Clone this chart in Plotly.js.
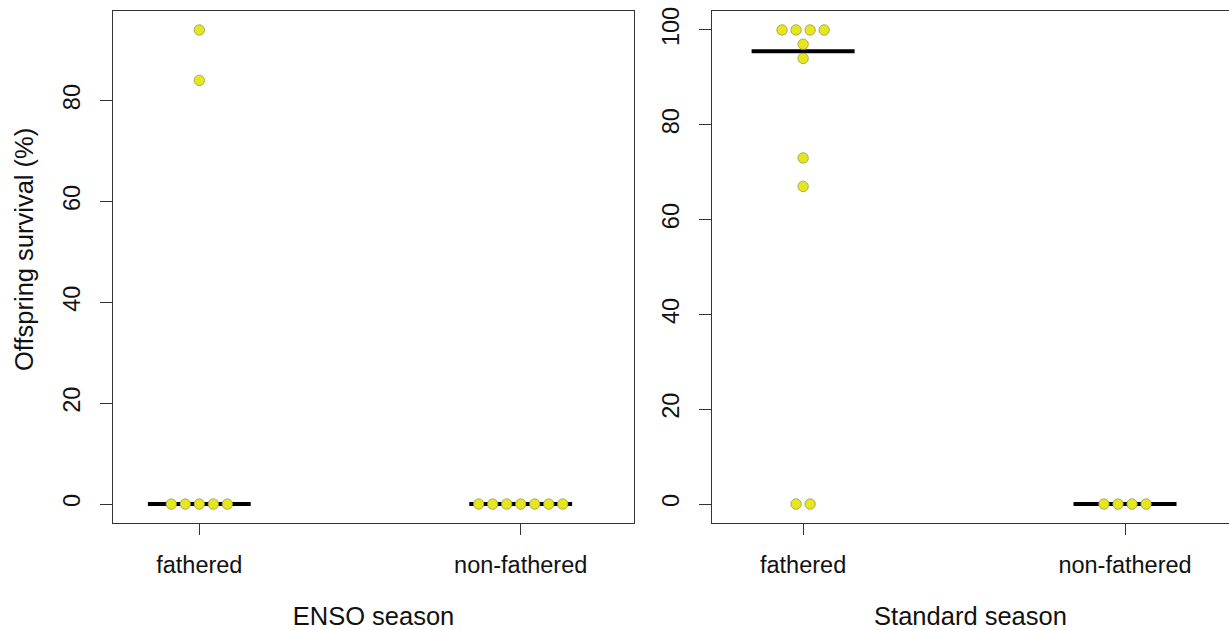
<!DOCTYPE html>
<html>
<head>
<meta charset="utf-8">
<script src="https://cdn.plot.ly/plotly-3.0.1.min.js"></script>
<style>html,body{margin:0;padding:0;background:#fff;}#chart{width:1229px;height:630px;}</style>
</head>
<body>
<div id="chart"></div>
<script>
// ---- data ----
const categories = ["fathered", "non-fathered"];
const ensoFathered = [0, 0, 0, 0, 0, 84, 94];
const ensoNonFathered = [0, 0, 0, 0, 0, 0, 0];
const standardFathered = [0, 0, 67, 73, 94, 97, 100, 100, 100, 100];
const standardNonFathered = [0, 0, 0, 0];
const ensoYTicks = [0, 20, 40, 60, 80];
const standardYTicks = [0, 20, 40, 60, 80, 100];
const panelTitles = ["ENSO season", "Standard season"];
const yTitle = "Offspring survival (%)";

// ---- helpers ----
const SPREAD = 0.0436;   // horizontal spacing between tied points (x units)
const HALF = 0.16;       // half width of median bar
function median(a) {
  const s = a.slice().sort((p, q) => p - q), n = s.length;
  return n % 2 ? s[(n - 1) / 2] : (s[n / 2 - 1] + s[n / 2]) / 2;
}
function swarm(vals, center) {
  const groups = {};
  vals.forEach(v => { (groups[v] = groups[v] || []).push(v); });
  const xs = [], ys = [];
  Object.keys(groups).forEach(k => {
    const g = groups[k], n = g.length;
    g.forEach((v, i) => { xs.push(center + (i - (n - 1) / 2) * SPREAD); ys.push(v); });
  });
  return {xs, ys};
}
const marker = {size: 10.5, color: '#E6E61C', line: {color: '#8d8d5a', width: 0.7}};
const traces = [];
function addGroup(vals, ci, xa, ya) {
  const c = ci + 1, m = median(vals);
  traces.push({x: [c - HALF, c + HALF], y: [m, m], xaxis: xa, yaxis: ya, mode: 'lines',
    line: {color: '#000', width: 4}, hoverinfo: 'skip', showlegend: false});
  const s = swarm(vals, c);
  traces.push({x: s.xs, y: s.ys, xaxis: xa, yaxis: ya, mode: 'markers', type: 'scatter',
    marker: marker, showlegend: false});
}
addGroup(ensoFathered, 0, 'x', 'y');
addGroup(ensoNonFathered, 1, 'x', 'y');
addGroup(standardFathered, 0, 'x2', 'y2');
addGroup(standardNonFathered, 1, 'x2', 'y2');

const FONT = 'Liberation Sans, Arial, Helvetica, sans-serif';
const TF = {family: FONT, size: 23.5, color: '#111'};
const TTF = {family: FONT, size: 25.5, color: '#111'};
const W = 1229, H = 630;
const yDom = [(H - 523) / H, (H - 11) / H];
function xAxis(dom, range, title) {
  return {domain: dom, range: range, tickvals: [1, 2], ticktext: categories,
    ticks: 'outside', ticklen: 11, tickwidth: 1, tickcolor: '#333',
    showline: true, linecolor: '#333', linewidth: 1, mirror: true,
    showgrid: false, zeroline: false, tickfont: TF, fixedrange: true, ticklabelstandoff: 10,
    title: {text: title, font: TTF, standoff: 30}};
}
function yAxis(anchor, range, ticks, mirror) {
  return {domain: yDom, anchor: anchor, range: range, tickvals: ticks,
    ticks: 'outside', ticklen: 12, tickwidth: 1, tickcolor: '#333', tickangle: -90,
    showline: true, linecolor: '#333', linewidth: 1, mirror: mirror,
    showgrid: false, zeroline: false, tickfont: TF, fixedrange: true, ticklabelstandoff: 11};
}
const layout = {
  width: W, height: H, margin: {l: 0, r: 0, t: 0, b: 0},
  paper_bgcolor: '#fff', plot_bgcolor: '#fff', showlegend: false,
  xaxis: Object.assign(xAxis([113 / W, 634 / W], [0.7315, 2.3525], panelTitles[0]), {anchor: 'y'}),
  yaxis: yAxis('x', [-3.76, 97.76], ensoYTicks, true),
  xaxis2: Object.assign(xAxis([712 / W, 1], [0.717, 2.323], panelTitles[1]), {anchor: 'y2'}),
  yaxis2: yAxis('x2', [-4, 104], standardYTicks, false),
  annotations: [{text: yTitle, textangle: -90, xref: 'paper', yref: 'paper',
    x: 24 / W, y: (H - 250) / H, xanchor: 'center', yanchor: 'middle',
    showarrow: false, font: TTF}]
};
Plotly.newPlot('chart', traces, layout, {displayModeBar: false, staticPlot: true});
</script>
</body>
</html>
